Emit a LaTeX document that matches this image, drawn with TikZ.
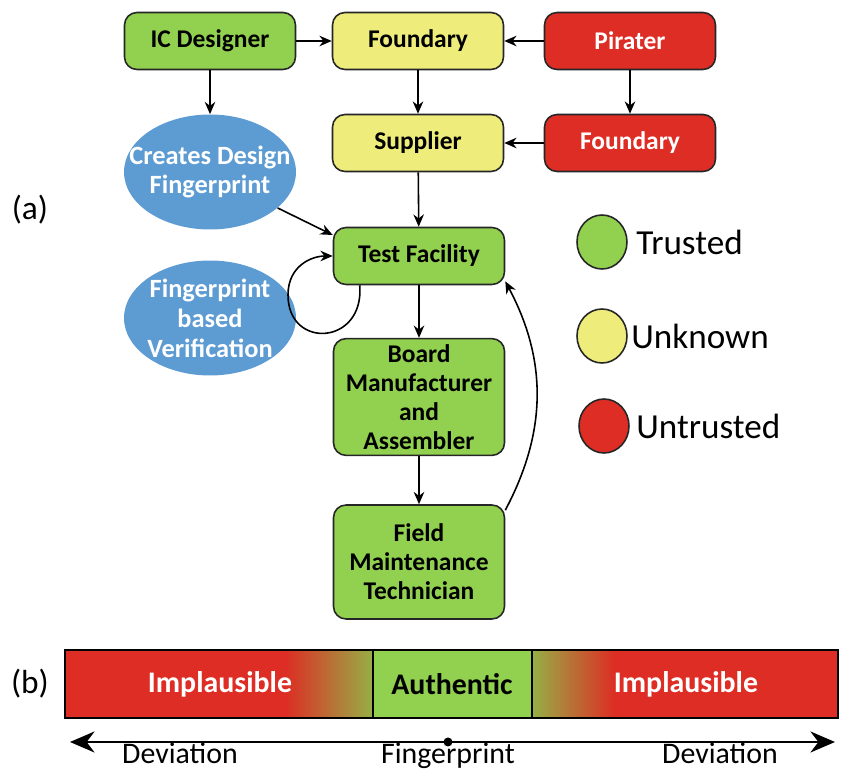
\documentclass[tikz,border=0pt]{standalone}
\usepackage{fontspec}
\setmainfont{Carlito}
\usetikzlibrary{arrows.meta}
\usetikzlibrary{shapes.geometric}

\definecolor{trustgreen}{RGB}{146,208,80}
\definecolor{unkyellow}{RGB}{238,236,122}
\definecolor{untrustred}{RGB}{221,45,36}
\definecolor{stepblue}{RGB}{93,155,211}
\definecolor{olivemix}{RGB}{150,175,70}

\tikzset{
	box/.style={draw=black!85, line width=0.9pt, rounded corners=0.25cm, minimum width=3.42cm, minimum height=1.14cm, align=center, font=\bfseries\fontsize{14.5}{16.5}\selectfont},
	tall/.style={box, minimum height=2.28cm},
	blob/.style={ellipse, fill=stepblue, text=white, minimum width=3.44cm, minimum height=2.3cm, inner xsep=-0.45cm, inner ysep=-0.12cm, align=center, font=\bfseries\fontsize{15}{17}\selectfont},
	dotkey/.style={ellipse, draw=black!85, line width=0.9pt, minimum width=1.0cm, minimum height=1.08cm, inner sep=0pt},
	keytext/.style={anchor=west, inner sep=0pt, font=\fontsize{20}{22}\selectfont},
	arr/.style={->, line width=0.9pt}
}

\begin{document}
\begin{tikzpicture}[x=0.02cm, y=-0.02cm, >={Stealth[length=7pt, width=6pt]}]
		\useasboundingbox (0,0) rectangle (843,773);

		% (a) supply chain
		\node[box, fill=trustgreen] (icd) at (210,41) {IC Designer};
		\node[box, fill=unkyellow] (fnd) at (418,41) {Foundary};
		\node[box, fill=untrustred, text=white] (pir) at (630,41) {Pirater};
		\node[box, fill=unkyellow] (sup) at (418,143) {Supplier};
		\node[box, fill=untrustred, text=white] (rfnd) at (630,143) {Foundary};
		\node[box, fill=trustgreen] (tf) at (419,256) {Test Facility};
		\node[tall, fill=trustgreen] (bma) at (419,397) {Board\\Manufacturer\\and\\Assembler};
		\node[tall, fill=trustgreen] (fmt) at (419,562) {Field\\Maintenance\\Technician};
		\node[blob] (cdf) at (210,172) {Creates Design\\Fingerprint};
		\node[blob] (fbv) at (210,318) {Fingerprint\\based\\Verification};
		\node[font=\fontsize{19}{21}\selectfont] (la) at (30,210) {(a)};

		\draw[arr] (icd) -- (fnd);
		\draw[arr] (pir) -- (fnd);
		\draw[arr] (icd) -- (cdf);
		\draw[arr] (fnd) -- (sup);
		\draw[arr] (pir) -- (rfnd);
		\draw[arr] (rfnd) -- (sup);
		\draw[arr] (sup) -- (tf);
		\draw[arr] (cdf.-28) -- (tf.west |- 0,235);
		\draw[arr] (tf) -- (bma);
		\draw[arr] (bma) -- (fmt);
		\draw[arr] ([xshift=0.54cm]tf.south west) .. controls +(5,60) and +(0,55) .. (288,295) .. controls +(0,-30) and +(-20,0) .. (tf.west);
		\draw[line width=0.9pt, ->] ([yshift=-0.12cm]fmt.north east) to[out=62, in=-62] ([yshift=0.08cm]tf.south east);

		% legend
		\node[dotkey, fill=trustgreen] (kg) at (602,242) {};
		\node[keytext] (kgt) at (636,242) {Trusted};
		\node[dotkey, fill=unkyellow] (ky) at (602,336) {};
		\node[keytext] (kyt) at (631,336) {Unknown};
		\node[dotkey, fill=untrustred] (kr) at (604,426) {};
		\node[keytext] (krt) at (636,426) {Untrusted};

		% (b) deviation bar
		\fill[untrustred] (65,650) rectangle (285,718);
		\shade[left color=untrustred, right color=olivemix] (285,650) rectangle (373,718);
		\fill[trustgreen] (373,650) rectangle (532,718);
		\shade[left color=olivemix, right color=untrustred] (532,650) rectangle (615,718);
		\fill[untrustred] (615,650) rectangle (838,718);
		\draw[line width=1.6pt] (65,650) rectangle (838,718);
		\draw[line width=0.9pt] (373,650) -- (373,718);
		\draw[line width=0.9pt] (532,650) -- (532,718);
		\node[text=white, font=\bfseries\fontsize{17}{19}\selectfont] (imp1) at (220,684) {Implausible};
		\node[font=\bfseries\fontsize{17}{19}\selectfont] (auth) at (452,684) {Authentic};
		\node[text=white, font=\bfseries\fontsize{17}{19}\selectfont] (imp2) at (686,684) {Implausible};
		\node[font=\fontsize{19}{21}\selectfont] (lb) at (30,684) {(b)};

		\coordinate (devl) at (70,742);
		\coordinate (devr) at (835,742);
		\coordinate (fp) at (448,742);
		\draw[line width=1.2pt, {Stealth[length=14pt, width=12pt]}-{Stealth[length=14pt, width=12pt]}] (devl) -- (devr);
		\fill (fp) circle (4.5);
		\node[anchor=base, inner sep=0pt, font=\fontsize{17}{19}\selectfont] (devlt) at (180,764) {Deviation};
		\node[anchor=base, inner sep=0pt, font=\fontsize{17}{19}\selectfont] (fpt) at (448,764) {Fingerprint};
		\node[anchor=base, inner sep=0pt, font=\fontsize{17}{19}\selectfont] (devrt) at (720,764) {Deviation};
	\end{tikzpicture}
\end{document}
